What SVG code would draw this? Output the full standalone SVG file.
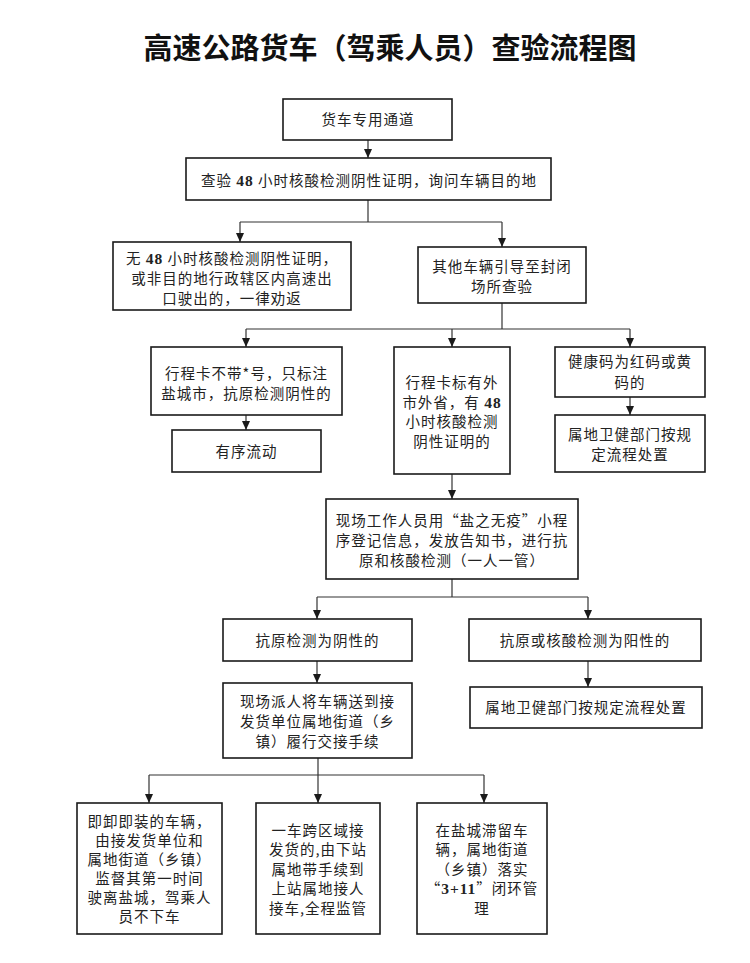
<svg xmlns="http://www.w3.org/2000/svg" width="750" height="963" viewBox="0 0 750 963">
<defs>
<marker id="arr" markerUnits="userSpaceOnUse" markerWidth="8" markerHeight="9" refX="4" refY="9" orient="0" viewBox="0 0 8 9">
<path d="M0,0 L8,0 L4,9 z" fill="#1a1a1a"/>
</marker>
<style>
.bg{fill:#ffffff}
.box{fill:#ffffff;stroke:#1a1a1a;stroke-width:1.6}
.t{font-family:"Noto Sans CJK SC","Noto Sans CJK TC",sans-serif;font-size:14.5px;letter-spacing:1px;fill:#222222;text-anchor:middle}
.n{font-family:"Liberation Serif",serif;font-weight:bold;font-size:15.5px}
.title{font-family:"Noto Sans CJK SC",sans-serif;font-weight:bold;font-size:29px;fill:#111111;text-anchor:middle}
.c{fill:none;stroke:#333333;stroke-width:1.2}
.a{fill:none;stroke:#333333;stroke-width:1.2;marker-end:url(#arr)}
</style>
</defs>
<rect class="bg" x="0" y="0" width="750" height="963"/>
<text class="title" x="390" y="59">高速公路货车（驾乘人员）查验流程图</text>

<g id="connectors">
<line class="a" x1="368" y1="140" x2="368" y2="158"/>
<polyline class="c" points="368,200 368,222"/>
<polyline class="c" points="240,222 502,222"/>
<line class="a" x1="240" y1="222" x2="240" y2="242"/>
<line class="a" x1="502" y1="222" x2="502" y2="247"/>
<polyline class="c" points="502,303 502,329"/>
<polyline class="c" points="246,329 630,329"/>
<line class="a" x1="246" y1="329" x2="246" y2="347"/>
<line class="a" x1="452" y1="329" x2="452" y2="347"/>
<line class="a" x1="630" y1="329" x2="630" y2="347"/>
<line class="a" x1="246" y1="415" x2="246" y2="430"/>
<line class="a" x1="630" y1="397" x2="630" y2="415"/>
<line class="a" x1="452" y1="474" x2="452" y2="499"/>
<polyline class="c" points="452,579 452,597"/>
<polyline class="c" points="317,597 588,597"/>
<line class="a" x1="317" y1="597" x2="317" y2="619"/>
<line class="a" x1="588" y1="597" x2="588" y2="619"/>
<line class="a" x1="317" y1="661" x2="317" y2="683"/>
<line class="a" x1="588" y1="661" x2="588" y2="687"/>
<polyline class="c" points="318,758 318,775"/>
<polyline class="c" points="149,775 484,775"/>
<line class="a" x1="149" y1="775" x2="149" y2="803"/>
<line class="a" x1="318" y1="775" x2="318" y2="803"/>
<line class="a" x1="484" y1="775" x2="484" y2="803"/>
</g>

<g id="n1">
<rect class="box" x="283" y="99" width="169" height="41"/>
<text class="t" x="368" y="125">货车专用通道</text>
</g>
<g id="n2">
<rect class="box" x="186" y="158" width="365" height="42"/>
<text class="t" x="369" y="185.5">查验 <tspan class="n">48</tspan> 小时核酸检测阴性证明，询问车辆目的地</text>
</g>
<g id="n3">
<rect class="box" x="113" y="242" width="238" height="68"/>
<text class="t" x="232" y="263.5">无 <tspan class="n">48</tspan> 小时核酸检测阴性证明，</text>
<text class="t" x="232" y="283.5">或非目的地行政辖区内高速出</text>
<text class="t" x="232" y="303.5">口驶出的，一律劝返</text>
</g>
<g id="n4">
<rect class="box" x="418" y="247" width="168" height="56"/>
<text class="t" x="502" y="272">其他车辆引导至封闭</text>
<text class="t" x="502" y="292">场所查验</text>
</g>
<g id="n5">
<rect class="box" x="151" y="347" width="191" height="68"/>
<text class="t" x="246.5" y="379">行程卡不带*号，只标注</text>
<text class="t" x="246.5" y="399">盐城市，抗原检测阴性的</text>
</g>
<g id="n6">
<rect class="box" x="172" y="430" width="149" height="42"/>
<text class="t" x="246.5" y="457">有序流动</text>
</g>
<g id="n7">
<rect class="box" x="394" y="347" width="116" height="127"/>
<text class="t" x="452" y="388">行程卡标有外</text>
<text class="t" x="452" y="407.5">市外省，有 <tspan class="n">48</tspan></text>
<text class="t" x="452" y="427">小时核酸检测</text>
<text class="t" x="452" y="446.5">阴性证明的</text>
</g>
<g id="n8">
<rect class="box" x="555" y="347" width="150" height="50"/>
<text class="t" x="630" y="367">健康码为红码或黄</text>
<text class="t" x="630" y="388">码的</text>
</g>
<g id="n9">
<rect class="box" x="555" y="415" width="150" height="57"/>
<text class="t" x="630" y="440">属地卫健部门按规</text>
<text class="t" x="630" y="460">定流程处置</text>
</g>
<g id="n10">
<rect class="box" x="326" y="499" width="252" height="80"/>
<text class="t" x="452" y="525.5">现场工作人员用“盐之无疫”小程</text>
<text class="t" x="452" y="545.5">序登记信息，发放告知书，进行抗</text>
<text class="t" x="452" y="565.5">原和核酸检测（一人一管）</text>
</g>
<g id="n11">
<rect class="box" x="223" y="619" width="189" height="42"/>
<text class="t" x="317.5" y="645.5">抗原检测为阴性的</text>
</g>
<g id="n12">
<rect class="box" x="469" y="619" width="232" height="42"/>
<text class="t" x="585" y="645.5">抗原或核酸检测为阳性的</text>
</g>
<g id="n13">
<rect class="box" x="223" y="683" width="189" height="75"/>
<text class="t" x="317.5" y="707">现场派人将车辆送到接</text>
<text class="t" x="317.5" y="727">发货单位属地街道（乡</text>
<text class="t" x="317.5" y="746.5">镇）履行交接手续</text>
</g>
<g id="n14">
<rect class="box" x="470" y="687" width="232" height="41"/>
<text class="t" x="586" y="713">属地卫健部门按规定流程处置</text>
</g>
<g id="n15">
<rect class="box" x="77" y="803" width="145" height="131"/>
<text class="t" x="149.5" y="827">即卸即装的车辆，</text>
<text class="t" x="149.5" y="846">由接发货单位和</text>
<text class="t" x="149.5" y="865">属地街道（乡镇）</text>
<text class="t" x="149.5" y="884">监督其第一时间</text>
<text class="t" x="149.5" y="903">驶离盐城，驾乘人</text>
<text class="t" x="149.5" y="922">员不下车</text>
</g>
<g id="n16">
<rect class="box" x="256" y="803" width="124" height="131"/>
<text class="t" x="318" y="835.5">一车跨区域接</text>
<text class="t" x="318" y="855">发货的,由下站</text>
<text class="t" x="318" y="874.5">属地带手续到</text>
<text class="t" x="318" y="894">上站属地接人</text>
<text class="t" x="318" y="913.5">接车,全程监管</text>
</g>
<g id="n17">
<rect class="box" x="417" y="803" width="130" height="131"/>
<text class="t" x="482" y="835.5">在盐城滞留车</text>
<text class="t" x="482" y="855">辆，属地街道</text>
<text class="t" x="482" y="874.5">（乡镇）落实</text>
<text class="t" x="482" y="894">“<tspan class="n">3+11</tspan>”闭环管</text>
<text class="t" x="482" y="913.5">理</text>
</g>
</svg>
